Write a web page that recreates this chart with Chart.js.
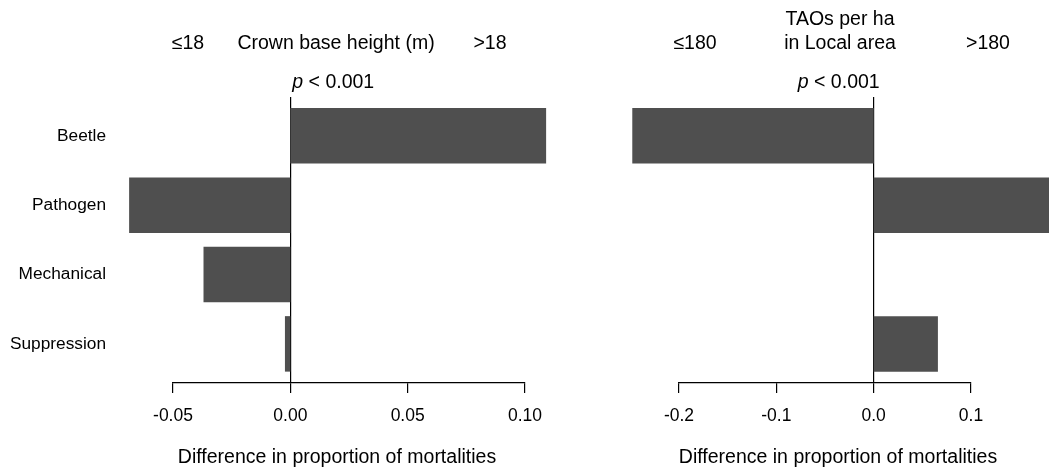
<!DOCTYPE html>
<html>
<head>
<meta charset="utf-8">
<script src="https://cdn.jsdelivr.net/npm/chart.js@4.4.0/dist/chart.umd.min.js"></script>
<style>
  html, body { margin: 0; padding: 0; background: #fff; }
  #wrap { position: relative; width: 1049px; height: 469px; overflow: hidden; }
  canvas { position: absolute; top: 0; }
  #crown { left: 0; }
  #tao { left: 560px; }
</style>
</head>
<body>
<div id="wrap">
  <canvas id="crown" width="560" height="469"></canvas>
  <canvas id="tao" width="489" height="469"></canvas>
</div>
<script>
  const categories = ['Beetle', 'Pathogen', 'Mechanical', 'Suppression'];
  const crownDiff = [0.109, -0.0687, -0.037, -0.0023];
  const taoDiff = [-0.248, 0.185, 0, 0.066];
  const crownTicks = [-0.05, 0.10, 0.05];
  const taoTicks = [-0.2, 0.1, 0.1];
  const xTitle = 'Difference in proportion of mortalities';

  const FONT = "'Liberation Sans', Arial, sans-serif";
  const BAR = '#4f4f4f';
  Chart.defaults.font.family = FONT;
  Chart.defaults.color = '#000';

  // header texts + axis title, drawn on top of each panel
  function headerPlugin(lines, pText) {
    return {
      id: 'header',
      afterDraw(chart) {
        const ctx = chart.ctx;
        ctx.save();
        ctx.fillStyle = '#000';
        ctx.textBaseline = 'middle';
        ctx.textAlign = 'center';
        ctx.font = `19.5px ${FONT}`;
        lines.forEach((l) => ctx.fillText(l.text, l.x, l.y));

        const zero = chart.scales.x.getPixelForValue(0);
        ctx.textAlign = 'left';
        ctx.font = `italic 19.5px ${FONT}`;
        const pw = ctx.measureText('p').width;
        ctx.font = `19.5px ${FONT}`;
        const rest = ' < 0.001';
        const rw = ctx.measureText(rest).width;
        let x0 = pText.align === 'left' ? zero + pText.dx : zero + pText.dx - pw - rw;
        ctx.font = `italic 19.5px ${FONT}`;
        ctx.fillText('p', x0, pText.y);
        ctx.font = `19.5px ${FONT}`;
        ctx.fillText(rest, x0 + pw, pText.y);
        ctx.restore();
      },
    };
  }

  function makePanel(canvasId, values, range, opts) {
    const [min, max, step] = range;
    const decimals = opts.decimals;
    return new Chart(document.getElementById(canvasId), {
      type: 'bar',
      data: {
        datasets: [
          {
            data: values.map((v, i) => ({ x: v, y: i + 1 })),
            backgroundColor: BAR,
            borderWidth: 0,
            barPercentage: 0.8,
            categoryPercentage: 1,
            clip: false,
          },
        ],
      },
      options: {
        indexAxis: 'y',
        responsive: false,
        animation: false,
        events: [],
        layout: { padding: opts.padding },
        scales: {
          x: {
            type: 'linear',
            min,
            max,
            z: 1,
            ticks: {
              stepSize: step,
              autoSkip: false,
              maxRotation: 0,
              padding: 13,
              color: '#000',
              font: { size: 17.5 },
              callback: (v) => Number(v).toFixed(decimals),
            },
            grid: {
              drawOnChartArea: true,
              color: (c) => (c.tick && Math.abs(c.tick.value) < 1e-9 ? '#000' : 'rgba(0,0,0,0)'),
              tickColor: '#000',
              tickLength: 10,
              lineWidth: 1.2,
            },
            border: { display: true, color: '#000', width: 1.2 },
            afterFit: (axis) => { axis.height = 86; },
          },
          y: {
            type: 'linear',
            display: opts.showLabels,
            reverse: true,
            offset: false,
            min: 0.44,
            max: 4.564,
            afterBuildTicks: (axis) => {
              axis.ticks = categories.map((c, i) => ({ value: i + 1 }));
            },
            ticks: {
              padding: 67,
              color: '#000',
              font: { size: 17.3 },
              callback: (v) => categories[Math.round(v) - 1],
            },
            grid: { display: false, drawTicks: false, offset: false },
            border: { display: false },
            afterFit: (axis) => { if (opts.showLabels) axis.width = 173; },
          },
        },
        plugins: {
          legend: { display: false },
          tooltip: { enabled: false },
        },
      },
      plugins: [headerPlugin(opts.header, opts.pText)],
    });
  }

  makePanel('crown', crownDiff, crownTicks, {
    decimals: 2,
    showLabels: true,
    padding: { top: 97, right: 35, left: 0, bottom: 0 },
    header: [
      { text: '\u226418', x: 188, y: 44 },
      { text: 'Crown base height (m)', x: 336, y: 44 },
      { text: '>18', x: 490, y: 44 },
      { text: xTitle, x: 337, y: 457.5 },
    ],
    pText: { align: 'left', dx: 2, y: 83 },
  });

  makePanel('tao', taoDiff, taoTicks, {
    decimals: 1,
    showLabels: false,
    padding: { top: 97, right: 78, left: 119, bottom: 0 },
    header: [
      { text: '\u2264180', x: 135, y: 44 },
      { text: 'TAOs per ha', x: 280, y: 19.5 },
      { text: 'in Local area', x: 280, y: 44 },
      { text: '>180', x: 428, y: 44 },
      { text: xTitle, x: 278, y: 457.5 },
    ],
    pText: { align: 'right', dx: 6, y: 83 },
  });
</script>
</body>
</html>
